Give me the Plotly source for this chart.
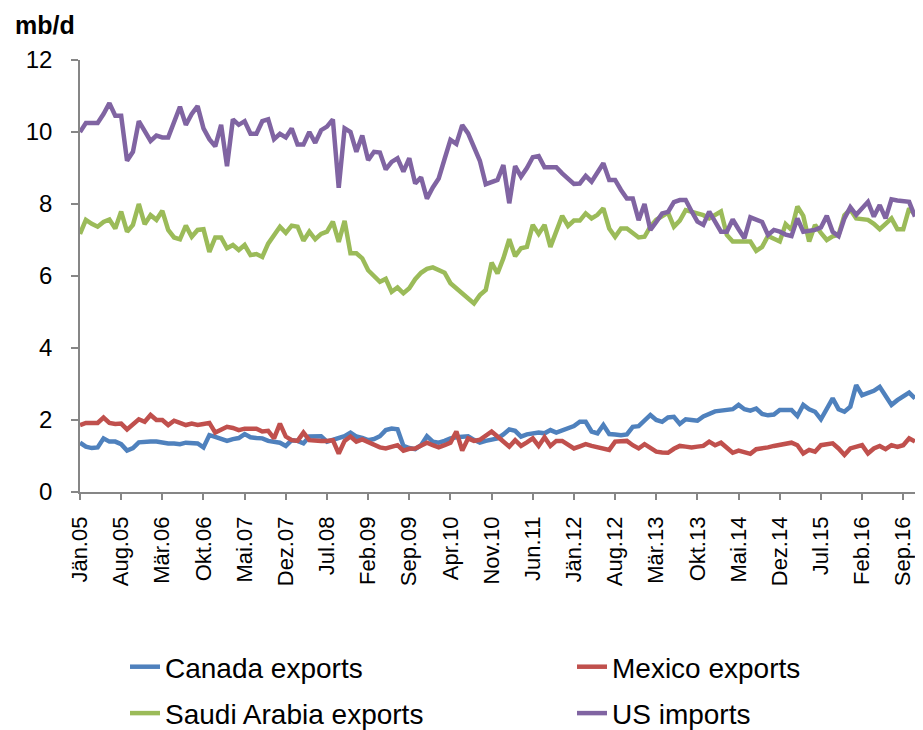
import plotly.graph_objects as go

# ---- data (monthly, Jän.05 .. Nov.16), mb/d ----
months_de = ["Jän", "Feb", "Mär", "Apr", "Mai", "Jun", "Jul", "Aug", "Sep", "Okt", "Nov", "Dez"]
categories = [f"{months_de[i % 12]}.{5 + i // 12:02d}" for i in range(143)]

canada_exports = [
    1.37, 1.26, 1.22, 1.24, 1.49, 1.4, 1.4, 1.33, 1.15, 1.22,
    1.38, 1.4, 1.4, 1.4, 1.37, 1.35, 1.35, 1.33, 1.37, 1.35,
    1.35, 1.24, 1.58, 1.53, 1.49, 1.42, 1.47, 1.5, 1.61, 1.52,
    1.5, 1.49, 1.42, 1.4, 1.37, 1.28, 1.44, 1.42, 1.35, 1.54,
    1.54, 1.55, 1.4, 1.45, 1.52, 1.55, 1.65, 1.54, 1.5, 1.44,
    1.47, 1.55, 1.72, 1.76, 1.74, 1.28, 1.22, 1.19, 1.3, 1.55,
    1.4, 1.37, 1.42, 1.49, 1.52, 1.55, 1.55, 1.45, 1.37, 1.42,
    1.45, 1.49, 1.6, 1.74, 1.7, 1.54, 1.6, 1.63, 1.65, 1.63,
    1.72, 1.65, 1.72, 1.76, 1.83, 1.95, 1.95, 1.68, 1.63, 1.86,
    1.61, 1.6, 1.58, 1.6, 1.81, 1.83, 2.0, 2.14, 2.0, 1.95,
    2.07, 2.09, 1.89, 2.02, 2.0, 1.98, 2.1, 2.18, 2.24, 2.26,
    2.28, 2.3, 2.42, 2.3, 2.26, 2.32, 2.17, 2.13, 2.15, 2.28,
    2.28, 2.28, 2.11, 2.42, 2.3, 2.23, 2.02, 2.3, 2.6, 2.3,
    2.23, 2.37, 2.97, 2.69, 2.75, 2.81, 2.92, 2.65, 2.42, 2.55,
    2.65, 2.76, 2.6,
]

mexico_exports = [
    1.86, 1.92, 1.92, 1.92, 2.07, 1.92, 1.89, 1.9, 1.74, 1.88,
    2.02, 1.95, 2.14, 2.0, 2.0, 1.86, 1.98, 1.92, 1.86, 1.9,
    1.86, 1.89, 1.92, 1.65, 1.72, 1.81, 1.78, 1.72, 1.76, 1.76,
    1.76, 1.68, 1.7, 1.49, 1.9, 1.54, 1.44, 1.42, 1.65, 1.44,
    1.42, 1.42, 1.42, 1.44, 1.07, 1.42, 1.54, 1.4, 1.46, 1.38,
    1.33, 1.24, 1.21, 1.25, 1.3, 1.15, 1.2, 1.21, 1.3, 1.37,
    1.3, 1.24, 1.3, 1.37, 1.68, 1.15, 1.49, 1.42, 1.45, 1.58,
    1.68, 1.54, 1.4, 1.26, 1.44, 1.28, 1.38, 1.49, 1.28, 1.52,
    1.28, 1.42, 1.42, 1.32, 1.21, 1.27, 1.33, 1.28, 1.24, 1.2,
    1.17, 1.4, 1.41, 1.42, 1.3, 1.21, 1.33, 1.22, 1.12, 1.1,
    1.09, 1.2, 1.28, 1.26, 1.24, 1.26, 1.28, 1.4, 1.3, 1.37,
    1.21, 1.09, 1.15, 1.1, 1.06, 1.19, 1.2, 1.24, 1.28, 1.32,
    1.35, 1.37, 1.3, 1.07, 1.17, 1.12, 1.3, 1.32, 1.35, 1.21,
    1.03, 1.21, 1.25, 1.3, 1.07, 1.21, 1.28, 1.19, 1.3, 1.25,
    1.3, 1.49, 1.4,
]

saudi_exports = [
    7.17, 7.56, 7.45, 7.37, 7.5, 7.57, 7.32, 7.79, 7.23, 7.42,
    8.0, 7.44, 7.69, 7.56, 7.81, 7.28, 7.07, 7.02, 7.4, 7.09,
    7.28, 7.3, 6.67, 7.07, 7.07, 6.77, 6.86, 6.72, 6.86, 6.58,
    6.61, 6.53, 6.9, 7.15, 7.37, 7.2, 7.4, 7.37, 6.98, 7.23,
    7.02, 7.17, 7.23, 7.51, 6.95, 7.53, 6.63, 6.63,
    6.49, 6.16, 5.98, 5.84, 5.92, 5.56, 5.68, 5.52, 5.66, 5.91,
    6.09, 6.2, 6.24, 6.15, 6.09, 5.8, 5.66, 5.52, 5.4, 5.24,
    5.47, 5.61, 6.37, 6.07, 6.49, 7.02, 6.55, 6.77, 6.81, 7.42,
    7.17, 7.42, 6.81, 7.25, 7.67, 7.39, 7.54, 7.54, 7.74, 7.6,
    7.7, 7.88, 7.32, 7.09, 7.32, 7.32, 7.2, 7.07,
    7.09, 7.37, 7.56, 7.65, 7.76, 7.37, 7.54, 7.83, 7.78, 7.74,
    7.69, 7.6, 7.7, 7.79, 7.14, 6.96, 6.96, 6.96, 6.96, 6.7,
    6.81, 7.11, 7.05, 6.96, 7.44, 7.28, 7.93, 7.67, 6.96, 7.42,
    7.2, 7.0, 7.1, 7.14, 7.69, 7.85, 7.6, 7.58, 7.56, 7.45,
    7.3, 7.45, 7.6, 7.3, 7.3, 7.88, 7.7,
]

us_imports = [
    10.0, 10.25, 10.25, 10.25, 10.5, 10.8, 10.45, 10.45, 9.2, 9.45,
    10.3, 10.0, 9.75, 9.9, 9.85, 9.85, 10.3, 10.7, 10.2, 10.5,
    10.72, 10.1, 9.8, 9.6, 10.2, 9.05, 10.35, 10.2, 10.3, 9.95,
    9.95, 10.3, 10.35, 9.8, 9.95, 9.85, 10.1, 9.65, 9.65, 10.0,
    9.7, 10.05, 10.15, 10.35, 8.45, 10.1, 10.0, 9.45,
    9.9, 9.22, 9.45, 9.43, 8.96, 9.17, 9.27, 8.9, 9.27, 8.57,
    8.74, 8.15, 8.46, 8.71, 9.25, 9.78, 9.67, 10.19, 9.96, 9.6,
    9.2, 8.55, 8.62, 8.67, 9.08, 8.02, 9.05, 8.76, 9.0, 9.3,
    9.33, 9.02, 9.02, 9.02, 8.85, 8.7, 8.56, 8.57, 8.78, 8.62,
    8.9, 9.13, 8.67, 8.67, 8.39, 8.15, 8.15, 7.55,
    8.0, 7.28, 7.5, 7.74, 7.78, 8.05, 8.11, 8.11, 7.8, 7.51,
    7.42, 7.79, 7.51, 7.23, 7.23, 7.57, 7.3, 7.05, 7.63, 7.55,
    7.5, 7.14, 7.28, 7.23, 7.15, 7.11, 7.6, 7.23, 7.25, 7.28,
    7.35, 7.67, 7.23, 7.11, 7.6, 7.91, 7.7, 7.9, 8.06, 7.65,
    7.97, 7.6, 8.13, 8.1, 8.08, 8.06, 7.65,
]

series_names = ["Canada exports", "Mexico exports", "Saudi Arabia exports", "US imports"]
series_colors = ["#4F81BD", "#C0504D", "#9BBB59", "#8064A2"]
legend_column = ["legend", "legend2", "legend", "legend2"]
tick_labels = categories[::7]

FONT = "Arial, Liberation Sans, sans-serif"
AXIS_GREY = "#868686"

# the page body adds an 8px margin, so the figure is laid out 8px smaller
FIG_W, FIG_H = 915, 722

fig = go.Figure()
for name, values, color, leg in zip(series_names,
                                    [canada_exports, mexico_exports, saudi_exports, us_imports],
                                    series_colors, legend_column):
    fig.add_trace(go.Scatter(
        x=categories, y=values, name=name, mode="lines",
        line=dict(color=color, width=4.5),
        legend=leg, legendgroup=name,
    ))

legend_common = dict(
    orientation="v",
    xref="paper", yref="container",
    xanchor="left", yanchor="top",
    y=1 - 634 / FIG_H,
    font=dict(size=28, family=FONT, color="black"),
    tracegroupgap=7,
    bgcolor="rgba(0,0,0,0)",
)

fig.update_layout(
    width=FIG_W, height=FIG_H,
    margin=dict(l=72, r=8, t=52, b=238, autoexpand=False),
    paper_bgcolor="white", plot_bgcolor="white",
    font=dict(family=FONT, color="black"),
    showlegend=True,
    legend=dict(x=45 / 835, **legend_common),
    legend2=dict(x=492 / 835, **legend_common),
    annotations=[dict(
        text="<b>mb/d</b>", xref="paper", yref="paper",
        x=-66 / 835, y=(484 - 17) / 432, xanchor="left", yanchor="middle",
        borderpad=0,
        showarrow=False, font=dict(size=25, family=FONT, color="black"),
    )],
)

fig.update_xaxes(
    type="category", range=[0, 142], automargin=False,
    tickmode="array", tickvals=tick_labels, ticktext=tick_labels,
    tickangle=-90, ticks="outside", ticklen=6, tickcolor=AXIS_GREY, tickwidth=1.5,
    ticklabelstandoff=8,
    showline=True, linecolor=AXIS_GREY, linewidth=1.5,
    showgrid=False, zeroline=False,
    tickfont=dict(size=22, family=FONT, color="black"),
)
fig.update_yaxes(
    range=[0, 12], dtick=2, tick0=0, automargin=False,
    ticks="outside", ticklen=7, tickcolor=AXIS_GREY, tickwidth=1.5,
    showline=True, linecolor=AXIS_GREY, linewidth=1.5,
    showgrid=False, zeroline=False,
    ticklabelstandoff=14,
    tickfont=dict(size=24, family=FONT, color="black"),
)

fig.write_html("out.html")
